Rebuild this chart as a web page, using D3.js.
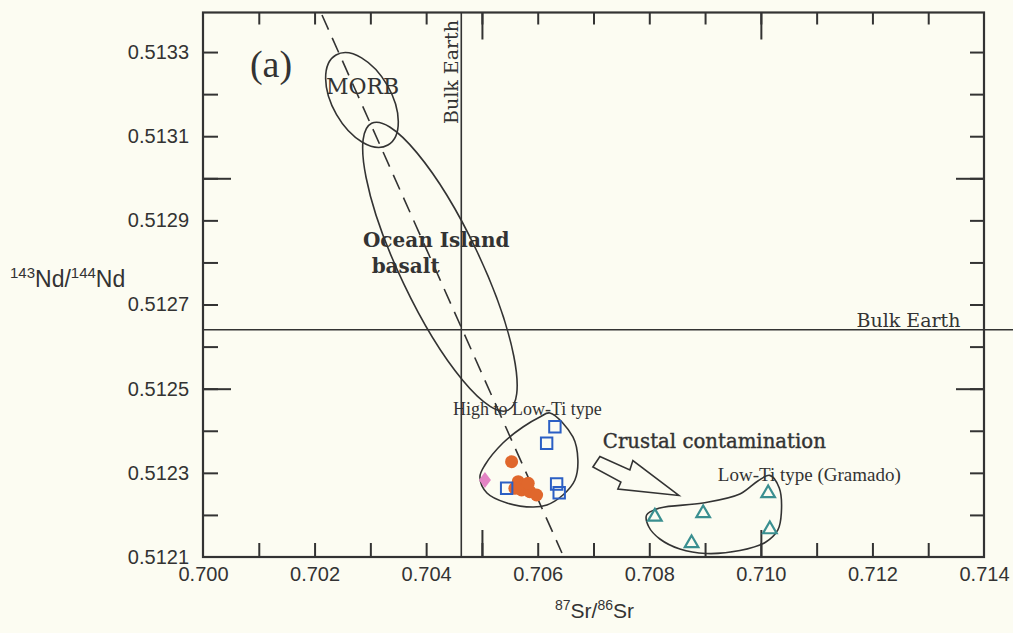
<!DOCTYPE html>
<html>
<head>
<meta charset="utf-8">
<script src="https://cdn.jsdelivr.net/npm/d3@7"></script>
<style>
  body { margin: 0; background: #fcfcf2; }
  svg { display: block; }
  .tick text { font-family: "Liberation Sans", Arial, sans-serif; font-size: 20px; fill: #333; }
  .serif { font-family: "DejaVu Serif", serif; fill: #333; }
  .times { font-family: "Liberation Serif", "Times New Roman", serif; fill: #333; }
</style>
</head>
<body>
<script>
// tick values
var xLabels = [0.700, 0.702, 0.704, 0.706, 0.708, 0.710, 0.712, 0.714];
var xMinor = [0.701, 0.702, 0.703, 0.704, 0.705, 0.706, 0.707, 0.708, 0.709, 0.710, 0.711, 0.712, 0.713];
var xMajor = [0.705, 0.710];
var yLabels = [0.5121, 0.5123, 0.5125, 0.5127, 0.5129, 0.5131, 0.5133];
var yMinor = [0.5122, 0.5123, 0.5124, 0.5125, 0.5126, 0.5127, 0.5128, 0.5129, 0.5130, 0.5131, 0.5132, 0.5133];
var yMajor = [0.5125, 0.5130];

// samples [87Sr/86Sr, 143Nd/144Nd]
var highLowTi = [[0.706308, 0.5124097], [0.706160, 0.5123702], [0.705443, 0.5122633],
                 [0.706339, 0.5122735], [0.706385, 0.5122528]];
var orangeSamples = [[0.705532, 0.5123265], [0.705651, 0.5122789], [0.705771, 0.5122711],
                     [0.705712, 0.5122592], [0.705860, 0.5122552], [0.705980, 0.5122473],
                     [0.705830, 0.5122751], [0.705591, 0.5122633]];
var pinkSamples = [[0.705054, 0.5122830]];
var gramado = [[0.708100, 0.5121958], [0.708966, 0.5122039], [0.708758, 0.5121326],
               [0.710131, 0.5122514], [0.710161, 0.5121658]];

var bulkEarthSr = 0.70463;
var bulkEarthNd = 0.51264;
var mantleArray = [[0.702133, 0.513388], [0.706434, 0.5121095]];

// fields: major axis ends + one minor axis end
var morbField = {p1: [0.702384, 0.513293], p2: [0.703315, 0.513079], pm: [0.703300, 0.513222]};
var oibField = {p1: [0.703023, 0.5131307], p2: [0.705471, 0.512449], pm: [0.704894, 0.512831]};

var highLowTiField = [[0.706219, 0.5124422], [0.706631, 0.5123852], [0.706720, 0.5123305],
  [0.706667, 0.5122830], [0.706452, 0.5122473], [0.706165, 0.5122236], [0.705914, 0.5122188],
  [0.705448, 0.5122283], [0.705090, 0.5122521], [0.704964, 0.5122901], [0.705054, 0.5123186],
  [0.705376, 0.5123709], [0.705735, 0.5124089], [0.706039, 0.5124327]];
var gramadoField = [[0.707952, 0.5121998], [0.708190, 0.5122164], [0.708961, 0.5122283],
  [0.709624, 0.5122497], [0.709946, 0.5122806], [0.710160, 0.5122940], [0.710330, 0.5122640],
  [0.710367, 0.5122046], [0.710305, 0.5121642], [0.710090, 0.5121356], [0.709624, 0.5121154],
  [0.709014, 0.5121083], [0.708548, 0.5121190], [0.708190, 0.5121428], [0.707993, 0.5121713]];
var arrowShape = [[0.707115, 0.5123388], [0.707652, 0.5123067], [0.707706, 0.5123293],
  [0.708530, 0.5122462], [0.707437, 0.5122616], [0.707491, 0.5122782], [0.706989, 0.5123139]];

var svg = d3.select("body").append("svg")
  .attr("width", 1013)
  .attr("height", 633);

var x = d3.scaleLinear().domain([0.700, 0.714]).range([203, 984]);
var y = d3.scaleLinear().domain([0.5121, 0.513394]).range([557, 12.5]);

var ink = "#333";

// axes (ticks point inward)
function addAxis(axis, tf, vals, size, labels) {
  var g = svg.append("g").attr("transform", tf)
    .call(axis.tickValues(vals).tickSize(size).tickFormat(labels ? d3.format(labels) : ""));
  g.select(".domain").remove();
  g.selectAll(".tick line").attr("stroke", ink).attr("stroke-width", 2);
  return g;
}
var bottomY = y.range()[0], topY = y.range()[1];
var leftX = x.range()[0], rightX = x.range()[1];

addAxis(d3.axisBottom(x), "translate(0," + bottomY + ")", xMinor, -14);
addAxis(d3.axisBottom(x), "translate(0," + bottomY + ")", xMajor, -27);
addAxis(d3.axisTop(x), "translate(0," + topY + ")", xMinor, -12);
addAxis(d3.axisTop(x), "translate(0," + topY + ")", xMajor, -27);
addAxis(d3.axisLeft(y), "translate(" + leftX + ",0)", yMinor, -15);
addAxis(d3.axisLeft(y), "translate(" + leftX + ",0)", yMajor, -28);
addAxis(d3.axisRight(y), "translate(" + rightX + ",0)", yMinor, -14);
addAxis(d3.axisRight(y), "translate(" + rightX + ",0)", yMajor, -28);

addAxis(d3.axisBottom(x).tickPadding(10), "translate(0," + bottomY + ")", xLabels, 0, ".3f");
addAxis(d3.axisLeft(y).tickPadding(14), "translate(" + leftX + ",0)", yLabels, 0, ".4f");

// frame
svg.append("rect")
  .attr("x", leftX).attr("y", topY)
  .attr("width", rightX - leftX).attr("height", bottomY - topY)
  .attr("fill", "none").attr("stroke", ink).attr("stroke-width", 2.2);

// bulk earth lines
svg.append("line")
  .attr("x1", x(bulkEarthSr)).attr("x2", x(bulkEarthSr))
  .attr("y1", topY).attr("y2", bottomY)
  .attr("stroke", ink).attr("stroke-width", 1.6);
svg.append("line")
  .attr("x1", leftX).attr("x2", 1013)
  .attr("y1", y(bulkEarthNd)).attr("y2", y(bulkEarthNd))
  .attr("stroke", ink).attr("stroke-width", 1.6);

// mantle array (dashed)
svg.append("line")
  .attr("x1", x(mantleArray[0][0])).attr("y1", y(mantleArray[0][1]))
  .attr("x2", x(mantleArray[1][0])).attr("y2", y(mantleArray[1][1]))
  .attr("stroke", ink).attr("stroke-width", 1.6)
  .attr("stroke-dasharray", "16,9");

// ellipse fields
function drawEllipse(f) {
  var ax = x(f.p1[0]), ay = y(f.p1[1]), bx = x(f.p2[0]), by = y(f.p2[1]);
  var cx = (ax + bx) / 2, cy = (ay + by) / 2;
  var a = Math.hypot(bx - ax, by - ay) / 2;
  var b = Math.hypot(x(f.pm[0]) - cx, y(f.pm[1]) - cy);
  var ang = Math.atan2(by - ay, bx - ax) * 180 / Math.PI;
  svg.append("ellipse")
    .attr("cx", 0).attr("cy", 0).attr("rx", a).attr("ry", b)
    .attr("transform", "translate(" + cx + "," + cy + ") rotate(" + ang + ")")
    .attr("fill", "none").attr("stroke", ink).attr("stroke-width", 1.6);
}
drawEllipse(morbField);
drawEllipse(oibField);

var closedCurve = d3.line().x(function(d) { return x(d[0]); }).y(function(d) { return y(d[1]); })
  .curve(d3.curveCatmullRomClosed.alpha(0.5));
svg.append("path").attr("d", closedCurve(highLowTiField))
  .attr("fill", "none").attr("stroke", ink).attr("stroke-width", 1.6);
svg.append("path").attr("d", closedCurve(gramadoField))
  .attr("fill", "none").attr("stroke", ink).attr("stroke-width", 1.6);

var polygon = d3.line().x(function(d) { return x(d[0]); }).y(function(d) { return y(d[1]); })
  .curve(d3.curveLinearClosed);
svg.append("path").attr("d", polygon(arrowShape))
  .attr("fill", "#fcfcf2").attr("stroke", ink).attr("stroke-width", 1.6)
  .attr("stroke-linejoin", "miter");

// samples
svg.selectAll(".orange").data(orangeSamples).enter().append("circle")
  .attr("cx", function(d) { return x(d[0]); })
  .attr("cy", function(d) { return y(d[1]); })
  .attr("r", 6.5)
  .attr("fill", "#e0672c");

svg.selectAll(".square").data(highLowTi).enter().append("path")
  .attr("transform", function(d) { return "translate(" + x(d[0]) + "," + y(d[1]) + ")"; })
  .attr("d", d3.symbol(d3.symbolSquare, 130))
  .attr("fill", "none").attr("stroke", "#2b5fc4").attr("stroke-width", 2);

svg.selectAll(".diamond").data(pinkSamples).enter().append("path")
  .attr("transform", function(d) { return "translate(" + x(d[0]) + "," + y(d[1]) + ")"; })
  .attr("d", "M0,-8L6,0L0,8L-6,0Z")
  .attr("fill", "#e384c4");

svg.selectAll(".tri").data(gramado).enter().append("path")
  .attr("transform", function(d) { return "translate(" + x(d[0]) + "," + y(d[1]) + ")"; })
  .attr("d", d3.symbol(d3.symbolTriangle, 80))
  .attr("fill", "none").attr("stroke", "#3a8f90").attr("stroke-width", 2.2);

// annotations
function note(txt, p, cls, size, extra) {
  var t = svg.append("text").attr("class", cls)
    .attr("x", x(p[0])).attr("y", y(p[1]))
    .style("font-size", size + "px")
    .text(txt);
  if (extra) extra(t);
  return t;
}
note("(a)", [0.700842, 0.5132407], "times", 38);
note("MORB", [0.702204, 0.5132003], "serif", 22);
note("Bulk Earth", [0.704570, 0.5131290], "serif", 19, function(t) {
  t.attr("transform", "rotate(-90," + t.attr("x") + "," + t.attr("y") + ")");
});
note("Ocean Island", [0.702867, 0.5128374], "serif", 20, function(t) { t.style("font-weight", "bold"); });
note("basalt", [0.703023, 0.5127742], "serif", 20, function(t) { t.style("font-weight", "bold"); });
note("Bulk Earth", [0.711715, 0.5126473], "serif", 19);
note("High to Low-Ti type", [0.704480, 0.5124375], "times", 18);
note("Crustal contamination", [0.707168, 0.5123583], "serif", 20, function(t) {
  t.attr("textLength", 223).attr("lengthAdjust", "spacingAndGlyphs").style("stroke", "#333").style("stroke-width", 0.4);
});
note("Low-Ti type (Gramado)", [0.709229, 0.5122813], "times", 19);

// axis titles
var xt = svg.append("text").attr("x", 555).attr("y", 618)
  .style("font-family", "Liberation Sans, Arial, sans-serif").attr("fill", ink);
xt.append("tspan").attr("font-size", 14).attr("dy", -8).text("87");
xt.append("tspan").attr("font-size", 21).attr("dy", 8).text("Sr/");
xt.append("tspan").attr("font-size", 14).attr("dy", -8).text("86");
xt.append("tspan").attr("font-size", 21).attr("dy", 8).text("Sr");

var yt = svg.append("text").attr("x", 10).attr("y", 287)
  .style("font-family", "Liberation Sans, Arial, sans-serif").attr("fill", ink);
yt.append("tspan").attr("font-size", 15).attr("dy", -9).text("143");
yt.append("tspan").attr("font-size", 23).attr("dy", 9).text("Nd/");
yt.append("tspan").attr("font-size", 15).attr("dy", -9).text("144");
yt.append("tspan").attr("font-size", 23).attr("dy", 9).text("Nd");
</script>
</body>
</html>
